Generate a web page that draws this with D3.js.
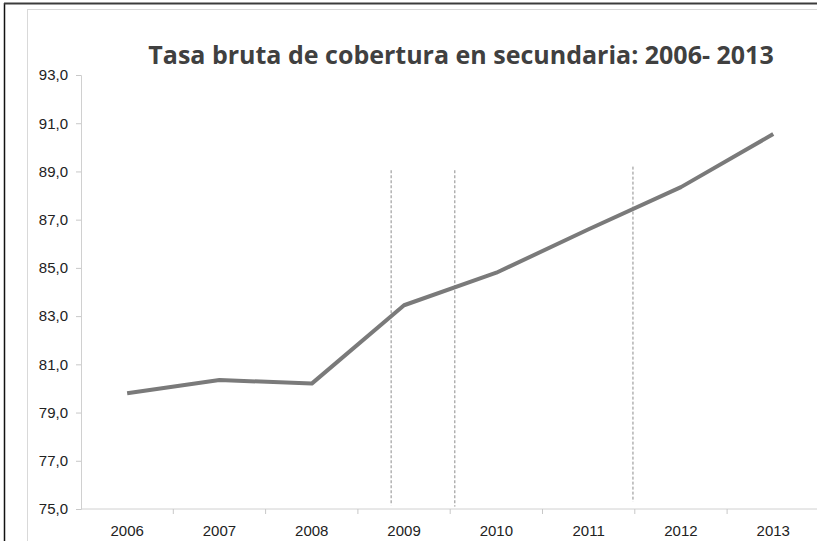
<!DOCTYPE html>
<html>
<head>
<meta charset="utf-8">
<script src="https://cdn.jsdelivr.net/npm/d3@7"></script>
<style>
  body { margin: 0; background: #fff; }
  .tick-label { font-family: "Liberation Sans", Arial, sans-serif; font-size: 15px; fill: #222; }
</style>
</head>
<body>
<div id="chart"></div>
<script>
const years = ["2006", "2007", "2008", "2009", "2010", "2011", "2012", "2013"];
const values = [79.8, 80.35, 80.2, 83.45, 84.8, 86.6, 88.35, 90.55];
const yTicks = [75, 77, 79, 81, 83, 85, 87, 89, 91, 93];
// dashed markers: position in category steps from the first year, value range
const markerAt = [2.86, 3.55, 5.48];
const markerTop = [89.05, 89.05, 89.2];
const markerBottom = [75.15, 75.1, 75.3];
const title = "Tasa bruta de cobertura en secundaria: 2006- 2013";

const width = 817, height = 541;
const plot = { left: 81, top: 75, bottom: 509, step: 92.3 };

const svg = d3.select("#chart").append("svg")
    .attr("width", width)
    .attr("height", height);

// outer frame and chart area frame
svg.append("line").attr("x1", 4.5).attr("x2", 4.5).attr("y1", 3).attr("y2", height)
    .attr("stroke", "#111").attr("stroke-width", 1.5);
svg.append("line").attr("x1", 4).attr("x2", width).attr("y1", 3.5).attr("y2", 3.5)
    .attr("stroke", "#3c3c3c").attr("stroke-width", 2);
svg.append("rect").attr("x", 27.5).attr("y", 9.5).attr("width", width).attr("height", height)
    .attr("fill", "none").attr("stroke", "#d9d9d9").attr("stroke-width", 1);

const x = d3.scaleBand().domain(years)
    .range([plot.left, plot.left + plot.step * years.length]);
const y = d3.scaleLinear().domain([75, 93]).range([plot.bottom, plot.top]);
const xPos = d3.scaleLinear().domain([0, years.length - 1])
    .range([x(years[0]) + x.bandwidth() / 2, x(years[years.length - 1]) + x.bandwidth() / 2]);

// y axis
const yAxis = svg.append("g").attr("transform", `translate(${plot.left},0)`)
    .call(d3.axisLeft(y).tickValues(yTicks).tickSize(5).tickPadding(8)
        .tickFormat(d => d3.format(".1f")(d).replace(".", ",")));
yAxis.select(".domain").attr("stroke", "#d0d0d0");
yAxis.selectAll(".tick line").attr("stroke", "#c8c8c8");
yAxis.selectAll(".tick text").attr("class", "tick-label").attr("font-family", null).attr("font-size", null);

// x axis with ticks between categories
const xAxis = svg.append("g").attr("transform", `translate(0,${plot.bottom})`);
xAxis.append("line")
    .attr("x1", plot.left).attr("x2", width)
    .attr("stroke", "#d0d0d0");
xAxis.selectAll(".xtick").data(years.slice(1)).enter().append("line")
    .attr("x1", d => x(d)).attr("x2", d => x(d))
    .attr("y1", 0).attr("y2", 5)
    .attr("stroke", "#c8c8c8");
xAxis.selectAll(".xlabel").data(years).enter().append("text")
    .attr("class", "tick-label")
    .attr("x", d => x(d) + x.bandwidth() / 2)
    .attr("y", 27)
    .attr("text-anchor", "middle")
    .text(d => d);

// dashed markers
svg.selectAll(".marker").data(markerAt).enter().append("line")
    .attr("x1", d => xPos(d)).attr("x2", d => xPos(d))
    .attr("y1", (d, i) => y(markerTop[i]))
    .attr("y2", (d, i) => y(markerBottom[i]))
    .attr("stroke", "#8c8c8c")
    .attr("stroke-width", 1)
    .attr("stroke-dasharray", "3,2");

// series line
const line = d3.line()
    .x((d, i) => x(years[i]) + x.bandwidth() / 2)
    .y(d => y(d));

svg.append("path")
    .datum(values)
    .attr("d", line)
    .attr("fill", "none")
    .attr("stroke", "#7a7a7a")
    .attr("stroke-width", 4)
    .attr("stroke-linejoin", "round");

// title
svg.append("text")
    .attr("x", 461)
    .attr("y", 64)
    .attr("text-anchor", "middle")
    .attr("font-family", "'Open Sans', sans-serif")
    .attr("font-weight", 700)
    .attr("font-size", 25)
    .attr("fill", "#404040")
    .text(title);
</script>
</body>
</html>
